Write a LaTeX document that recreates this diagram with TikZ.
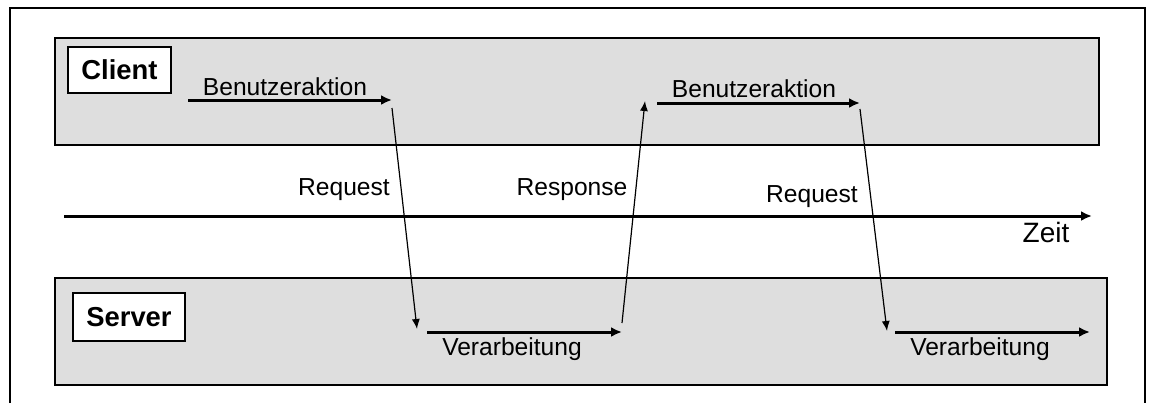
\documentclass[tikz,border=0pt]{standalone}
\usepackage{fontspec}
\setmainfont{Liberation Sans}
\usepackage{xcolor}
\usetikzlibrary{arrows,arrows.meta}
\definecolor{laneGrey}{HTML}{DEDEDE}

\begin{document}
\begin{tikzpicture}[x=0.5pt,y=-0.5pt,>=latex,
  lane/.style={draw,fill=laneGrey,line width=0.75pt},
  tag/.style={draw,fill=white,line width=0.75pt,font=\fontsize{13.7}{16}\selectfont\bfseries},
  lbl/.style={anchor=base,inner sep=0pt,font=\fontsize{12.3}{14}\selectfont},
  work/.style={-{Latex[length=5.5pt,width=5pt]},line width=1.5pt},
  msg/.style={-{Latex[length=5pt,width=4pt]},line width=0.6pt}]
\useasboundingbox (0,0) rectangle (1152,403);
\draw[line width=1pt] (10,403) -- (10,8) -- (1145,8) -- (1145,403);
% lanes
\draw[lane] (55,38) rectangle (1099,145);
\draw[lane] (55,278) rectangle (1107,385);
\node[tag,minimum width=51.5pt,minimum height=23pt] (client) at (119.5,70) {Client};
\node[tag,minimum width=56pt,minimum height=24pt] (server) at (129,317) {Server};
% time axis
\coordinate (t0) at (64,216);
\coordinate (t1) at (1092,216);
\draw[work] (t0) -- (t1);
\node[lbl,font=\fontsize{14}{16}\selectfont] (zeit) at (1046,242) {Zeit};
% end points
\coordinate (a1s) at (188,100);
\coordinate (a1e) at (392,100);
\coordinate (r1s) at (392,108);
\coordinate (r1e) at (417,329);
\coordinate (v1s) at (427,332);
\coordinate (v1e) at (622,332);
\coordinate (p1s) at (622,323);
\coordinate (p1e) at (645,101);
\coordinate (a2s) at (657,103);
\coordinate (a2e) at (860,103);
\coordinate (r2s) at (860,109);
\coordinate (r2e) at (887,331);
\coordinate (v2s) at (895,332);
\coordinate (v2e) at (1090,332);
% connectors
\draw[work] (a1s) -- (a1e);
\draw[msg] (r1s) -- (r1e);
\draw[work] (v1s) -- (v1e);
\draw[msg] (p1s) -- (p1e);
\draw[work] (a2s) -- (a2e);
\draw[msg] (r2s) -- (r2e);
\draw[work] (v2s) -- (v2e);
% labels
\node[lbl] (act1) at (285,95) {Benutzeraktion};
\node[lbl] (act2) at (754,97) {Benutzeraktion};
\node[lbl] (req1) at (344,195) {Request};
\node[lbl] (resp) at (572,195) {Response};
\node[lbl] (req2) at (812,202) {Request};
\node[lbl] (proc1) at (512,355) {Verarbeitung};
\node[lbl] (proc2) at (980,355) {Verarbeitung};
\end{tikzpicture}
\end{document}
